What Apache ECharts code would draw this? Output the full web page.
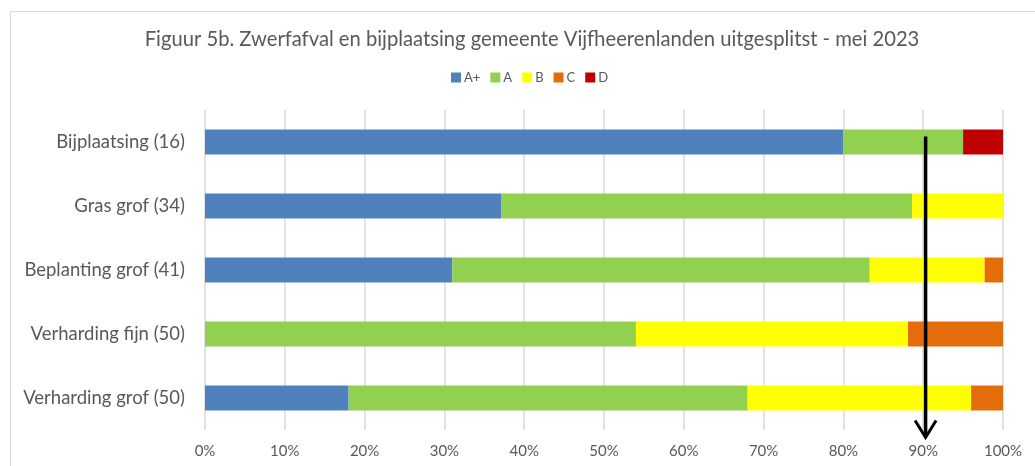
<!DOCTYPE html>
<html>
<head>
<meta charset="utf-8">
<script src="https://cdn.jsdelivr.net/npm/echarts@6/dist/echarts.min.js"></script>
<style>
  html, body { margin: 0; padding: 0; background: #ffffff; }
  #chart { width: 1035px; height: 466px; }
</style>
</head>
<body>
<div id="chart"></div>
<script>
// Categories, top to bottom (number of measurements in brackets)
const categories = [
  'Bijplaatsing (16)',
  'Gras grof (34)',
  'Beplanting grof (41)',
  'Verharding fijn (50)',
  'Verharding grof (50)'
];

// Share per quality level, in percent
const seriesNames = ['A+', 'A', 'B', 'C', 'D'];
const valuesAPlus = [80, 37.1, 31.0, 0, 18];
const valuesA     = [15, 51.5, 52.3, 54.0, 50];
const valuesB     = [0, 11.4, 14.4, 34.1, 28];
const valuesC     = [0, 0, 2.3, 11.9, 4];
const valuesD     = [5, 0, 0, 0, 0];

// X axis ticks
const xMin = 0;
const xMax = 100;
const xStep = 10;

// Norm line (target level)
const normValue = 90.3;

const colors = ['#4F81BD', '#92D050', '#FFFF00', '#E46C0A', '#C00000'];
const seriesValues = [valuesAPlus, valuesA, valuesB, valuesC, valuesD];
const textColor = '#595959';
const fontFamily = 'Lato, "Noto Sans", sans-serif';

const chart = echarts.init(document.getElementById('chart'), null, { renderer: 'canvas' });

const option = {
  animation: false,
  backgroundColor: '#ffffff',
  title: {
    text: 'Figuur 5b. Zwerfafval en bijplaatsing gemeente Vijfheerenlanden uitgesplitst - mei 2023',
    left: 527,
    top: 24,
    textAlign: 'center',
    textStyle: { color: textColor, fontSize: 20.2, fontWeight: 'normal', fontFamily: fontFamily }
  },
  legend: {
    data: seriesNames,
    left: 451,
    top: 71,
    padding: 0,
    icon: 'rect',
    itemWidth: 10,
    itemHeight: 10,
    itemGap: 10,
    textStyle: { color: textColor, fontSize: 13, fontFamily: fontFamily, padding: [0, 0, 0, -2] }
  },
  grid: { left: 205, right: 32, top: 110, bottom: 36, containLabel: false },
  xAxis: {
    type: 'value',
    min: xMin,
    max: xMax,
    interval: xStep,
    axisLine: { show: false },
    axisTick: { show: false },
    axisLabel: {
      formatter: '{value}%',
      color: textColor,
      fontSize: 15,
      fontFamily: fontFamily,
      margin: 14
    },
    splitLine: { show: true, lineStyle: { color: '#d9d9d9', width: 1.5 } }
  },
  yAxis: {
    type: 'category',
    data: categories,
    inverse: true,
    axisLine: { show: false },
    axisTick: { show: false },
    axisLabel: { color: textColor, fontSize: 18.5, fontFamily: fontFamily, margin: 20 }
  },
  series: seriesNames.map((name, i) => ({
    name: name,
    type: 'bar',
    stack: 'total',
    barWidth: 25,
    itemStyle: { color: colors[i] },
    data: seriesValues[i]
  }))
};

chart.setOption(option);

// Arrow marking the norm, placed through the axis scales
function drawArrow() {
  const x = chart.convertToPixel({ xAxisIndex: 0 }, normValue);
  const yTop = chart.convertToPixel({ yAxisIndex: 0 }, categories[0]) - 5.5;
  const yBottom = chart.convertToPixel({ yAxisIndex: 0 }, categories[categories.length - 1]) + 39.5;
  chart.setOption({
    graphic: [
      {
        type: 'rect',
        silent: true,
        shape: { x: 10.5, y: 11.5, width: 1100, height: 500 },
        style: { fill: 'none', stroke: '#d9d9d9', lineWidth: 1 },
        z: -1
      },
      {
        type: 'line',
        silent: true,
        shape: { x1: x, y1: yTop, x2: x, y2: yBottom - 1 },
        style: { stroke: '#000000', lineWidth: 3.5 },
        z: 100
      },
      {
        type: 'polyline',
        silent: true,
        shape: { points: [[x - 10.5, yBottom - 17], [x, yBottom], [x + 10.5, yBottom - 17]] },
        style: { stroke: '#000000', lineWidth: 3, fill: 'none' },
        z: 100
      }
    ]
  });
}
drawArrow();
</script>
</body>
</html>
